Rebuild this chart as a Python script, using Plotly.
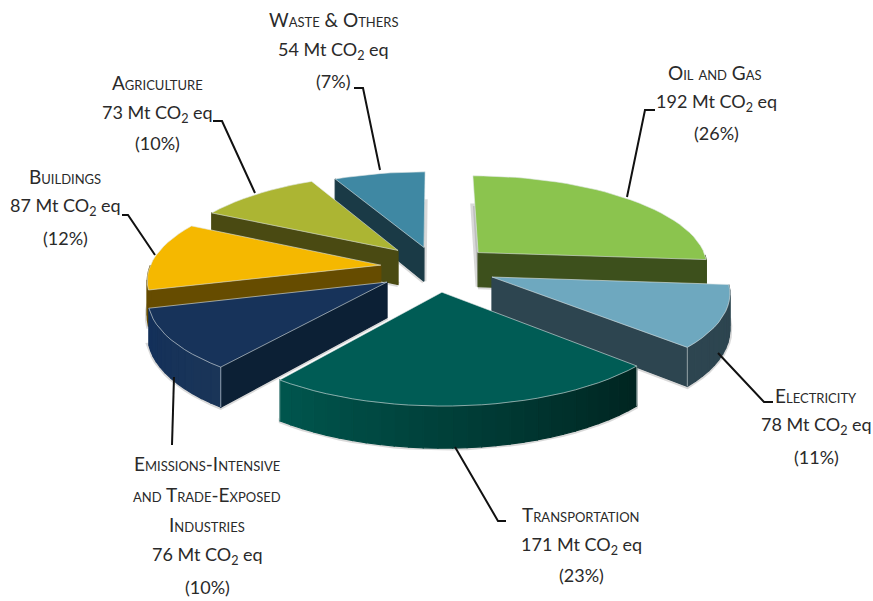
import math
import plotly.graph_objects as go

# ---- data ----
sectors = ["Oil and Gas", "Electricity", "Transportation",
           "Emissions-Intensive and Trade-Exposed Industries",
           "Buildings", "Agriculture", "Waste & Others"]
emissions_mt = [192, 78, 171, 76, 87, 73, 54]
share_labels = ["(26%)", "(11%)", "(23%)", "(10%)", "(12%)", "(10%)", "(7%)"]

# ---- style ----
top_colors = ["#8bc44e", "#6ea8bf", "#005c55", "#17335a", "#f5b800", "#acb533", "#3f88a3"]
cut_colors = ["#3d501c", "#2d4550", "#00302c", "#0c2035", "#664c00", "#4a4a12", "#1a3a46"]
arc_from = ["#3d501c", "#2d4550", "#002420", "#1a3558", "#664c00", "#4a4a12", "#1a3a46"]
arc_to = ["#3d501c", "#2d4550", "#00564e", "#13305a", "#664c00", "#4a4a12", "#1a3a46"]
pulls = [64, 60, 55, 55, 55, 63, 60]
pull_dirs = [45, 107, 172, 237, 283, 324, 350]
paint_order = [6, 5, 0, 4, 1, 3, 2]

CX, CY, RADIUS, TILT, DIST, DEPTH = 434, 270, 232, 0.395, 1700, 35
EDGE = "rgba(225,232,232,0.75)"
HALO = "rgba(130,130,130,0.30)"


def mix(c0, c1, t):
    a = [int(c0[i:i + 2], 16) for i in (1, 3, 5)]
    b = [int(c1[i:i + 2], 16) for i in (1, 3, 5)]
    return "#%02x%02x%02x" % tuple(round(a[i] + (b[i] - a[i]) * t) for i in range(3))


def project(x, y, z=0.0):
    s = DIST / (DIST - y)
    return CX + x * s, CY + TILT * y * s + z * s


def rim(a, off):
    r = math.radians(a)
    return off[0] + RADIUS * math.sin(r), off[1] - RADIUS * math.cos(r)


fig = go.Figure()


def poly(points, color, name, value, line=None, width=1.2):
    xs = [p[0] for p in points] + [points[0][0]]
    ys = [p[1] for p in points] + [points[0][1]]
    fig.add_trace(go.Scatter(
        x=xs, y=ys, mode="lines", fill="toself", fillcolor=color,
        line=dict(color=line or color, width=width),
        name=name, text=f"{name}: {value} Mt CO2 eq", hoverinfo="text", showlegend=False))


total = sum(emissions_mt)
starts, a = [], 0.0
for v in emissions_mt:
    starts.append(a)
    a += v / total * 360

for i in paint_order:
    name, v = sectors[i], emissions_mt[i]
    a0 = starts[i]
    a1 = a0 + v / total * 360
    d = math.radians(pull_dirs[i])
    off = (pulls[i] * math.sin(d), -pulls[i] * math.cos(d))
    n = max(2, int((a1 - a0) / 3))
    angles = [a0 + (a1 - a0) * k / n for k in range(n + 1)]

    # soft shadow around the lower outline of the slice
    poly([project(*off, DEPTH)] + [project(*rim(b, off), DEPTH) for b in angles],
         HALO, name, v, line=HALO, width=5)

    # visible flat cut faces
    for ang in (a0, a1):
        sign = -1 if ang == a0 else 1
        if sign * math.sin(math.radians(ang)) > 0:
            rx, ry = rim(ang, off)
            poly([project(*off), project(rx, ry), project(rx, ry, DEPTH), project(*off, DEPTH)],
                 cut_colors[i], name, v)
    # visible curved strips
    for k in range(n):
        b0, b1 = angles[k], angles[k + 1]
        if math.cos(math.radians((b0 + b1) / 2)) < 0:
            p0, p1 = rim(b0, off), rim(b1, off)
            poly([project(*p0), project(*p1), project(*p1, DEPTH), project(*p0, DEPTH)],
                 mix(arc_from[i], arc_to[i], (k + 0.5) / n), name, v)
    # vertical edges at front corners
    for ang in (a0, a1):
        if math.cos(math.radians(ang)) < -0.35:
            p = rim(ang, off)
            q0, q1 = project(*p), project(*p, DEPTH)
            fig.add_trace(go.Scatter(x=[q0[0], q1[0]], y=[q0[1], q1[1]], mode="lines",
                                     line=dict(color=EDGE, width=0.8), hoverinfo="skip", showlegend=False))
    # top face
    poly([project(*off)] + [project(*rim(b, off)) for b in angles], top_colors[i], name, v, line=EDGE, width=0.8)

# ---- leader lines ----
leaders = [
    [(655, 110), (645, 110), (627, 197)],
    [(718, 353), (764, 402), (773, 402)],
    [(455, 447), (498, 521), (506, 521)],
    [(174, 377), (172, 445)],
    [(122, 215), (128, 215), (155, 255)],
    [(213, 121), (222, 121), (255, 193)],
    [(354, 88), (363, 88), (380, 170)],
]
for pts in leaders:
    fig.add_trace(go.Scatter(x=[p[0] for p in pts], y=[p[1] for p in pts], mode="lines",
                             line=dict(color="#111111", width=2), hoverinfo="skip", showlegend=False))

# ---- labels ----
FONT = "Lato"
INK = "#2a2a2a"


def label(x, y, text, caps=False):
    fig.add_annotation(x=x, y=y, xref="x", yref="y", text=text, showarrow=False,
                       xanchor="center", yanchor="middle",
                       font=dict(family=FONT, size=19 if caps else 18, color=INK,
                                 variant="small-caps" if caps else "normal"))


def body(v):
    return f"{v} Mt CO<sub>2</sub> eq"


label(715, 72, "Oil and Gas", True)
label(716, 102, body(emissions_mt[0])); label(716, 133, share_labels[0])
label(816, 395, "Electricity", True)
label(816, 425, body(emissions_mt[1])); label(816, 457, share_labels[1])
label(581, 514, "Transportation", True)
label(581, 545, body(emissions_mt[2])); label(581, 575, share_labels[2])
label(207, 463, "Emissions-Intensive", True)
label(207, 494, "and Trade-Exposed", True)
label(207, 524, "Industries", True)
label(207, 555, body(emissions_mt[3])); label(207, 587, share_labels[3])
label(65, 176, "Buildings", True)
label(65, 206, body(emissions_mt[4])); label(65, 238, share_labels[4])
label(157, 82, "Agriculture", True)
label(157, 113, body(emissions_mt[5])); label(157, 143, share_labels[5])
label(333, 19, "Waste & Others", True)
label(333, 50, body(emissions_mt[6])); label(333, 81, share_labels[6])

fig.update_layout(
    width=873, height=601, margin=dict(l=0, r=0, t=0, b=0),
    paper_bgcolor="white", plot_bgcolor="white", showlegend=False,
    xaxis=dict(range=[0, 873], visible=False, fixedrange=True),
    yaxis=dict(range=[601, 0], visible=False, fixedrange=True),
)
fig.write_html("out.html", config=dict(displayModeBar=False),
               post_script="document.body.style.margin='0';document.body.style.overflow='hidden';")
